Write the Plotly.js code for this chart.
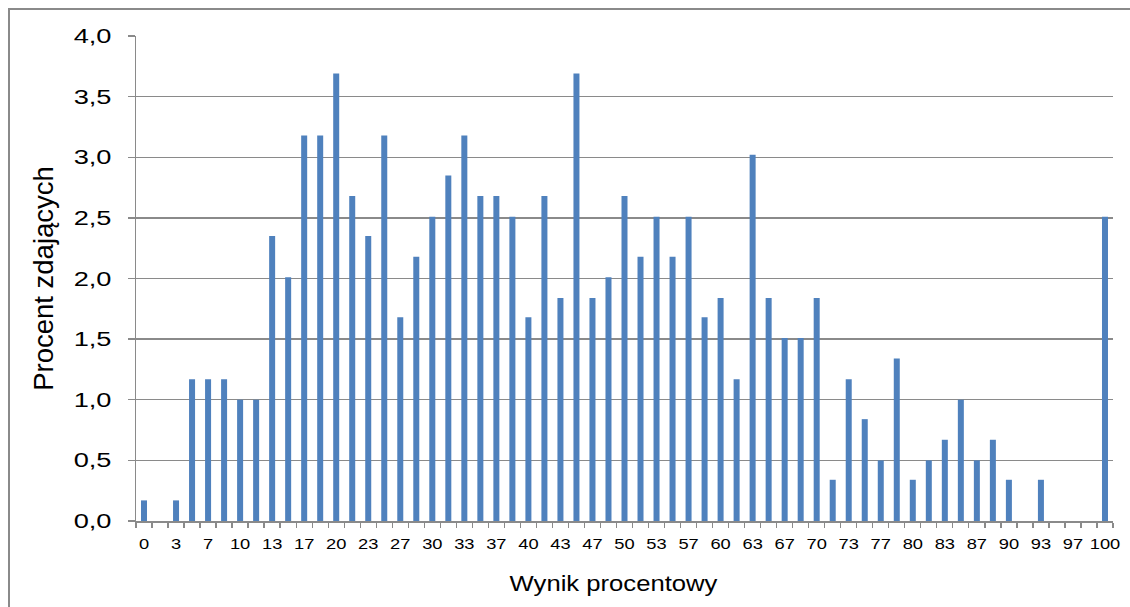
<!DOCTYPE html>
<html>
<head>
<meta charset="utf-8">
<script src="https://cdn.plot.ly/plotly-3.0.1.min.js"></script>
<style>
  html, body { margin: 0; padding: 0; background: #fff; }
  #frame { position: absolute; left: 8px; top: 8px; width: 1140px; height: 620px; border: 2px solid #8a8a8a; box-sizing: border-box; }
  #chart { position: absolute; left: 0; top: 0; width: 1130px; height: 607px; }
</style>
</head>
<body>
<div id="frame"></div>
<div id="chart"></div>
<script>
const categories = ["0","2","3","5","7","8","10","12","13","15","17","18","20","22","23","25","27","28","30","32","33","35","37","38","40","42","43","45","47","48","50","52","53","55","57","58","60","62","63","65","67","68","70","72","73","75","77","78","80","82","83","85","87","88","90","92","93","95","97","98","100"];
const percentValues = [0.17,0,0.17,1.17,1.17,1.17,1.0,1.0,2.35,2.01,3.18,3.18,3.69,2.68,2.35,3.18,1.68,2.18,2.51,2.85,3.18,2.68,2.68,2.51,1.68,2.68,1.84,3.69,1.84,2.01,2.68,2.18,2.51,2.18,2.51,1.68,1.84,1.17,3.02,1.84,1.51,1.51,1.84,0.34,1.17,0.84,0.50,1.34,0.34,0.50,0.67,1.0,0.50,0.67,0.34,0,0.34,0,0,0,2.51];
const tickLabels = categories.map((c, i) => (i % 2 === 0 ? c : ""));

const trace = {
  type: "bar",
  x: categories,
  y: percentValues,
  marker: { color: "#4f81bd", line: { width: 0 } },
  hoverinfo: "x+y"
};

const FONT = "Liberation Sans, Arial, sans-serif";

const layout = {
  width: 1130,
  height: 607,
  margin: { l: 136, r: 17, t: 36, b: 86 },
  paper_bgcolor: "rgba(0,0,0,0)",
  plot_bgcolor: "#ffffff",
  separators: ", ",
  bargap: 0.625,
  showlegend: false,
  font: { family: FONT, color: "#000" },
  xaxis: {
    type: "category",
    tickmode: "array",
    tickvals: categories,
    ticktext: tickLabels,
    tickson: "boundaries",
    ticks: "outside",
    ticklen: 5,
    tickwidth: 1.3,
    tickcolor: "#8a8a8a",
    showline: true,
    linecolor: "#8a8a8a",
    linewidth: 1.5,
    showgrid: false,
    tickangle: 0,
    ticklabelstandoff: 9,
    tickfont: { size: 15, family: FONT },
    title: { text: "Wynik procentowy", font: { size: 22.5, family: FONT }, standoff: 24 }
  },
  yaxis: {
    range: [0, 4],
    dtick: 0.5,
    tick0: 0,
    tickformat: ".1f",
    ticks: "outside",
    ticklen: 7,
    tickwidth: 1.3,
    tickcolor: "#8a8a8a",
    showline: true,
    linecolor: "#8a8a8a",
    linewidth: 1.5,
    showgrid: true,
    gridcolor: "#8a8a8a",
    gridwidth: 1.4,
    zeroline: false,
    tickfont: { size: 20, family: FONT },
    ticklabelstandoff: 12,
    title: { text: "Procent zdających", font: { size: 27.5, family: FONT }, standoff: 22 }
  }
};

function stretchText(selector, sx, dx) {
  document.querySelectorAll(selector).forEach(t => {
    const x = parseFloat(t.getAttribute("x")) || 0;
    const y = parseFloat(t.getAttribute("y")) || 0;
    const tr = t.getAttribute("transform") || "";
    t.setAttribute("transform", tr + " translate(" + (x + (dx || 0)) + "," + y + ") scale(" + sx + ",1) translate(" + (-x) + "," + (-y) + ")");
  });
}

Plotly.newPlot("chart", [trace], layout, { displayModeBar: false, staticPlot: true }).then(() => {
  stretchText("#chart .ytick text", 1.36, 0);
  stretchText("#chart .xtick text", 1.22, 0);
  stretchText("#chart .xtitle", 1.14, -11);
});
</script>
</body>
</html>
